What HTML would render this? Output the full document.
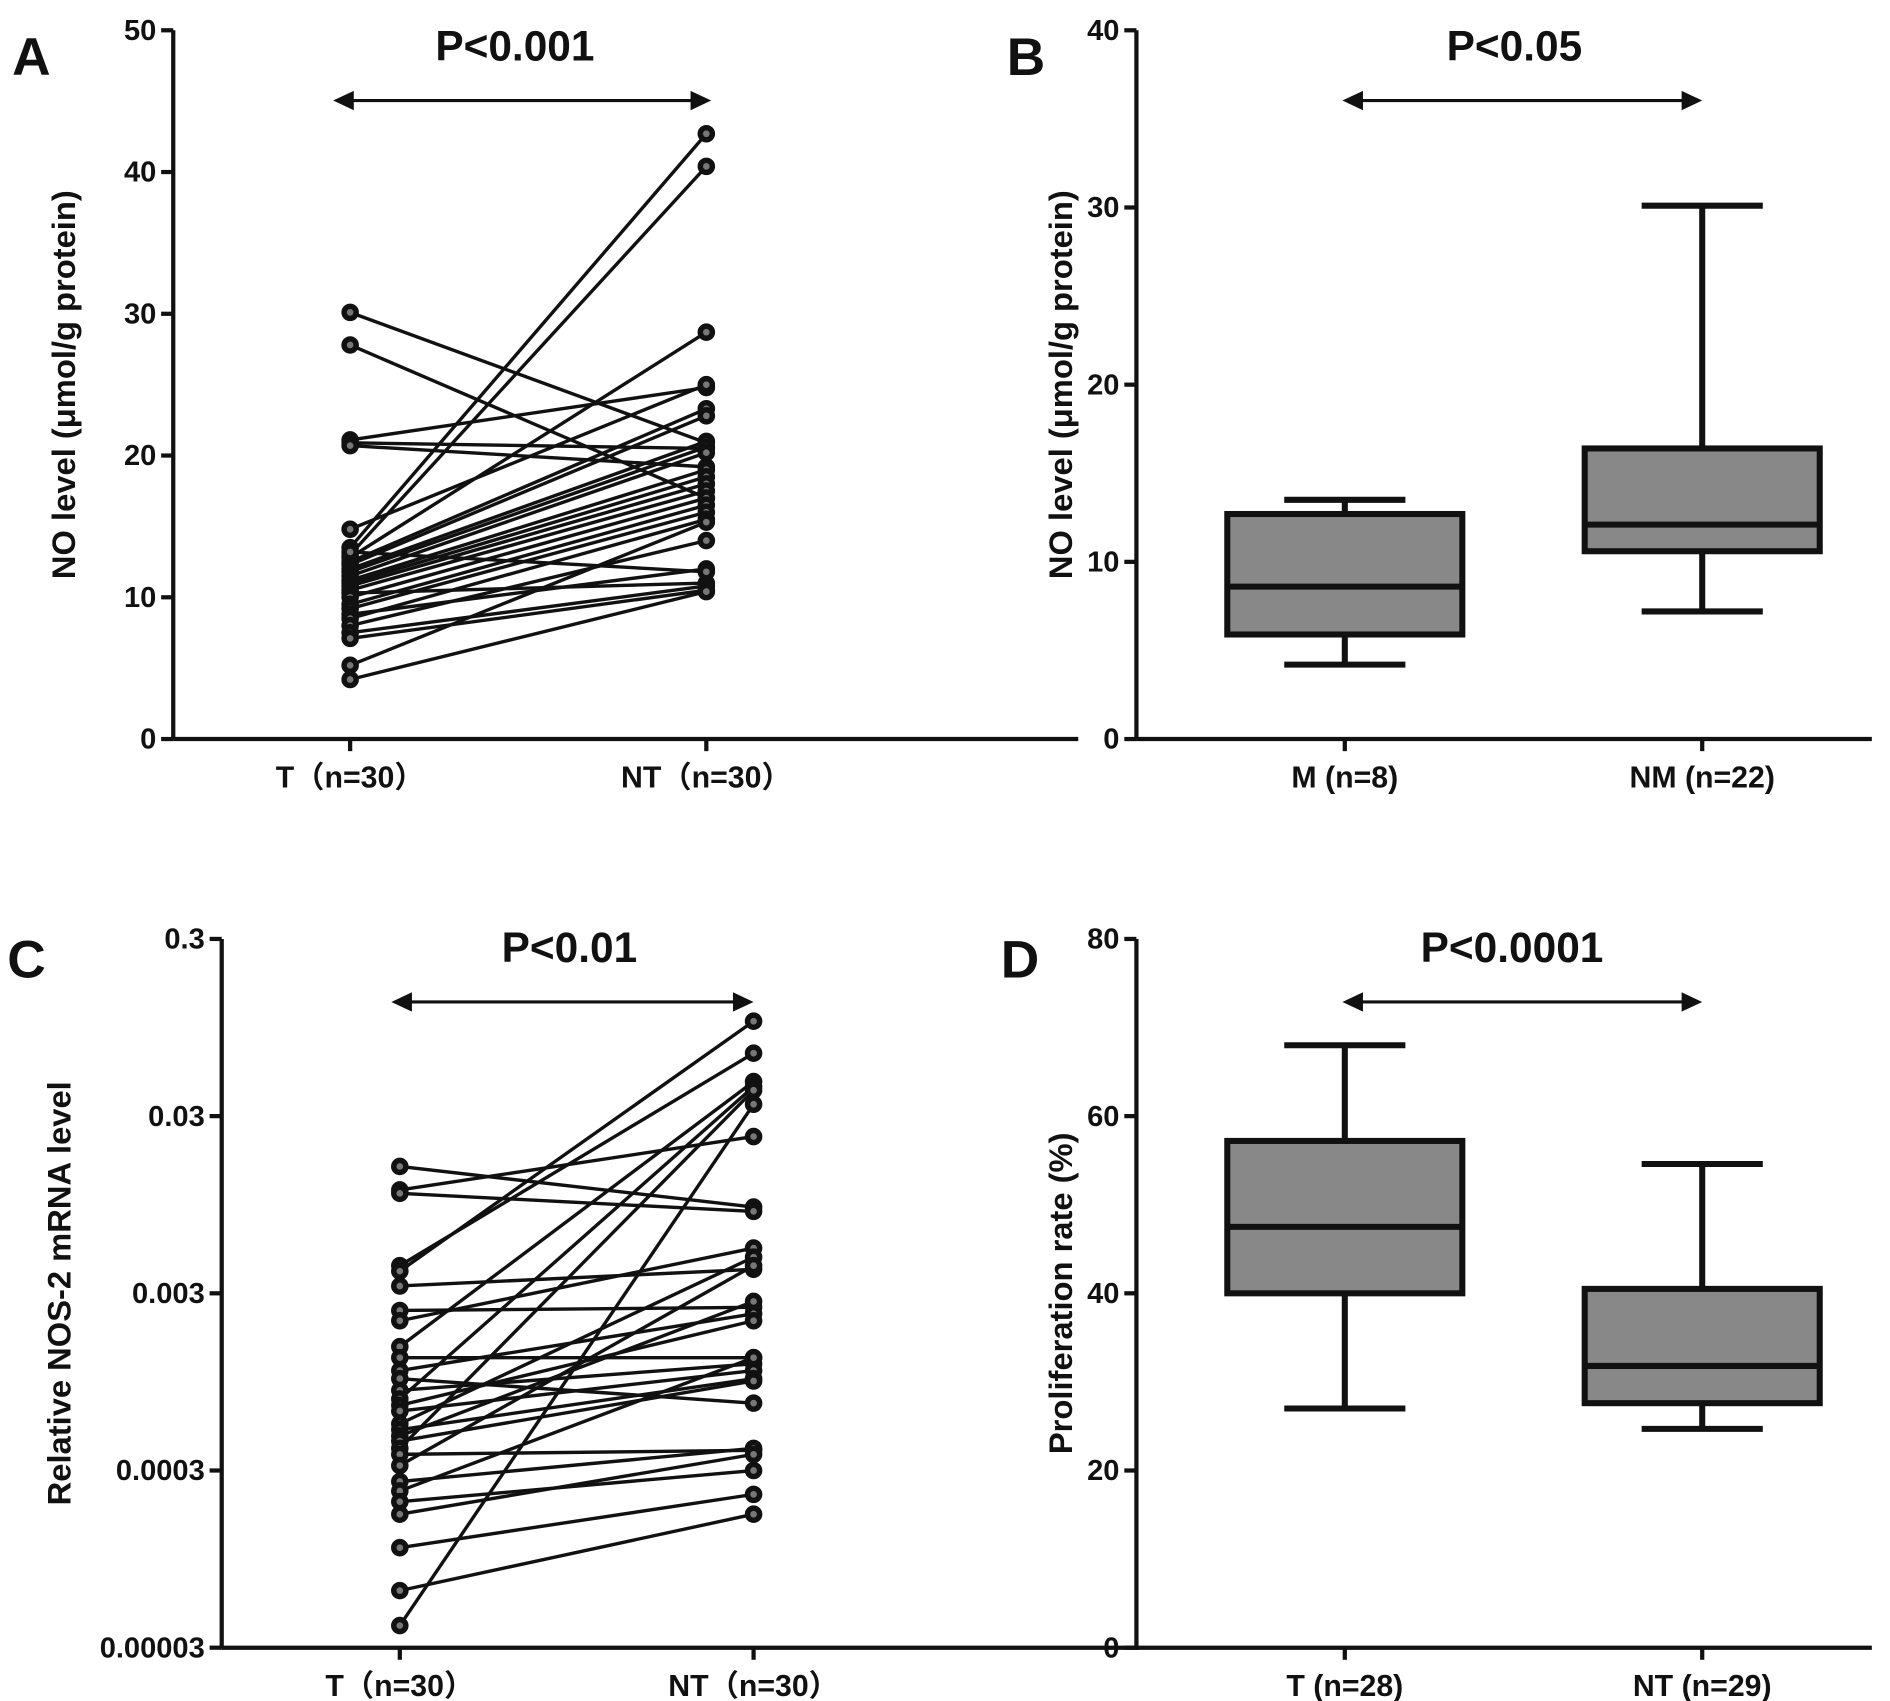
<!DOCTYPE html>
<html><head><meta charset="utf-8"><style>
html,body{margin:0;padding:0;background:#fff}
svg{display:block}
text{font-family:"Liberation Sans","Noto Sans CJK SC",sans-serif;font-weight:bold;fill:#111}
</style></head><body>
<svg id="fig" width="1890" height="1701" viewBox="0 0 1560 1404" xmlns="http://www.w3.org/2000/svg"></svg>
<script>
// Panel A data (NO level, paired)
const aT  = [30.1,27.8,21.1,20.9,20.7,14.8,13.5,13.0,12.8,12.5,12.3,12.0,11.8,11.5,11.2,11.0,10.8,10.5,10.3,10.0,9.5,9.2,8.8,8.5,8.0,7.5,7.1,5.2,4.2,13.2];
const aNT = [20.9,17.0,24.8,20.5,19.2,25.0,42.7,40.4,28.7,23.3,22.8,21.0,20.6,20.2,19.0,18.5,18.0,17.5,11.0,17.0,16.5,16.0,12.0,15.5,14.0,10.8,10.5,15.3,10.4,11.8];
const aTicks = [0,10,20,30,40,50];
// Panel B box stats [min,q1,median,q3,max]
const bCats = ["M (n=8)","NM (n=22)"];
const bStats = [[4.2,5.9,8.6,12.7,13.5],[7.2,10.6,12.1,16.4,30.1]];
const bTicks = [0,10,20,30,40];
// Panel C data (relative NOS-2 mRNA, log scale, paired)
const cT  = [0.0156,0.0115,0.011,0.0043,0.004,0.0033,0.0024,0.0021,0.0015,0.0013,0.0011,0.00099,0.00085,0.00076,0.0007,0.00065,0.00055,0.00051,0.00047,0.00044,0.0004,0.00037,0.00032,0.00026,0.00023,0.0002,0.00017,0.00011,0.000063,0.00004];
const cNT = [0.0092,0.023,0.0087,0.068,0.103,0.0041,0.0025,0.0054,0.047,0.0013,0.0023,0.00072,0.0012,0.044,0.0021,0.0011,0.0048,0.00099,0.0027,0.00096,0.042,0.00039,0.0043,0.0004,0.0013,0.0003,0.00037,0.00022,0.00017,0.035];
const cTicks = [0.3,0.03,0.003,0.0003,0.00003];
const cTickLabels = ["0.3","0.03","0.003","0.0003","0.00003"];
// Panel D box stats
const dCats = ["T (n=28)","NT (n=29)"];
const dStats = [[27,40,47.5,57.2,68],[24.7,27.6,31.8,40.5,54.6]];
const dTicks = [0,20,40,60,80];

const svg = document.getElementById('fig');
const NS = 'http://www.w3.org/2000/svg';
function mk(tag, attrs, name, parent){
  const e = document.createElementNS(NS, tag);
  for (const k in attrs) e.setAttribute(k, attrs[k]);
  
  
  (parent||svg).appendChild(e);
  return e;
}
function txt(x,y,s,size,anchor,name,extra){
  const t = mk('text', Object.assign({x:x,y:y,'font-size':size,'text-anchor':anchor||'middle'}, extra||{}), name);
  t.textContent = s; return t;
}
function axes(p){
  mk('line',{x1:p.x0,y1:p.yTop,x2:p.x0,y2:p.y0,stroke:'#111','stroke-width':3.5},'y-axis');
  mk('line',{x1:p.x0,y1:p.y0,x2:p.x1,y2:p.y0,stroke:'#111','stroke-width':3.5},'x-axis');
  p.ticks.forEach((v,i)=>{
    const y = p.ys(v);
    mk('line',{x1:p.x0-10,y1:y,x2:p.x0,y2:y,stroke:'#111','stroke-width':3.5},'y-tick');
    txt(p.x0-14,y+8,p.tickLabels?p.tickLabels[i]:String(v),24,'end','y-tick-label');
  });
  p.cats.forEach((c,i)=>{
    const x = p.xs[i];
    mk('line',{x1:x,y1:p.y0,x2:x,y2:p.y0+10,stroke:'#111','stroke-width':3.5},'x-tick');
    txt(x,p.y0+40,c,25,'middle','x-tick-label');
  });
  const ty = (p.yTop+p.y0)/2;
  txt(0,0,p.ylabel,27,'middle','y-axis-title',{transform:`translate(${p.ylx},${ty}) rotate(-90)`});
  txt(p.letter[1],p.letter[2],p.letter[0],44,'start','panel-label');
  txt(p.pX,p.pY,p.pText,35,'middle','p-value');
  mk('line',{x1:p.arrow[0]+14,y1:p.arrow[2],x2:p.arrow[1]-14,y2:p.arrow[2],stroke:'#111','stroke-width':2.5},'comparison-arrow');
  mk('polygon',{points:`${p.arrow[0]},${p.arrow[2]} ${p.arrow[0]+17},${p.arrow[2]-8} ${p.arrow[0]+17},${p.arrow[2]+8}`,fill:'#111'},'arrow-head-left');
  mk('polygon',{points:`${p.arrow[1]},${p.arrow[2]} ${p.arrow[1]-17},${p.arrow[2]-8} ${p.arrow[1]-17},${p.arrow[2]+8}`,fill:'#111'},'arrow-head-right');
}
function paired(p, T, NT){
  T.forEach((v,i)=>{
    mk('line',{x1:p.xs[0],y1:p.ys(v),x2:p.xs[1],y2:p.ys(NT[i]),stroke:'#111','stroke-width':2.8},'pair-line');
  });
  T.forEach(v=>mk('circle',{cx:p.xs[0],cy:p.ys(v),r:5,fill:'#777',stroke:'#111','stroke-width':4.5},'point-t'));
  NT.forEach(v=>mk('circle',{cx:p.xs[1],cy:p.ys(v),r:5,fill:'#777',stroke:'#111','stroke-width':4.5},'point-nt'));
}
function boxes(p, stats){
  stats.forEach((s,i)=>{
    const x = p.xs[i], hw = 97, cw = 50;
    mk('line',{x1:x,y1:p.ys(s[0]),x2:x,y2:p.ys(s[4]),stroke:'#111','stroke-width':5},'whisker');
    mk('line',{x1:x-cw,y1:p.ys(s[0]),x2:x+cw,y2:p.ys(s[0]),stroke:'#111','stroke-width':5},'whisker-cap-min');
    mk('line',{x1:x-cw,y1:p.ys(s[4]),x2:x+cw,y2:p.ys(s[4]),stroke:'#111','stroke-width':5},'whisker-cap-max');
    mk('rect',{x:x-hw,y:p.ys(s[3]),width:2*hw,height:p.ys(s[1])-p.ys(s[3]),fill:'#888',stroke:'#111','stroke-width':5},'box');
    mk('line',{x1:x-hw,y1:p.ys(s[2]),x2:x+hw,y2:p.ys(s[2]),stroke:'#111','stroke-width':5},'median-line');
  });
}
// Panel A
const pA = {x0:143,x1:890,y0:610,yTop:25,ys:v=>610-v*11.7,ticks:aTicks,cats:["T（n=30）","NT（n=30）"],xs:[289,583],
  ylabel:"NO level (μmol/g protein)",ylx:62,letter:["A",10,62],pText:"P<0.001",pX:425,pY:50,arrow:[275,587,83]};
axes(pA); paired(pA,aT,aNT);
// Panel B
const pB = {x0:938,x1:1545,y0:610,yTop:25,ys:v=>610-v*14.625,ticks:bTicks,cats:bCats,xs:[1110,1405],
  ylabel:"NO level (μmol/g protein)",ylx:885,letter:["B",831,62],pText:"P<0.05",pX:1250,pY:50,arrow:[1108,1405,83]};
axes(pB); boxes(pB,bStats);
// Panel C
const pC = {x0:183,x1:940,y0:1360,yTop:775,ys:v=>775+(Math.log10(0.3)-Math.log10(v))*146.25,ticks:cTicks,tickLabels:cTickLabels,cats:["T（n=30）","NT（n=30）"],xs:[330,622],
  ylabel:"Relative NOS-2 mRNA level",ylx:58,letter:["C",6,807],pText:"P<0.01",pX:470,pY:794,arrow:[323,622,827]};
axes(pC); paired(pC,cT,cNT);
// Panel D
const pD = {x0:938,x1:1545,y0:1360,yTop:775,ys:v=>1360-v*7.3125,ticks:dTicks,cats:dCats,xs:[1110,1405],
  ylabel:"Proliferation rate  (%)",ylx:885,letter:["D",826,807],pText:"P<0.0001",pX:1248,pY:794,arrow:[1108,1405,827]};
axes(pD); boxes(pD,dStats);
</script>
</body></html>
